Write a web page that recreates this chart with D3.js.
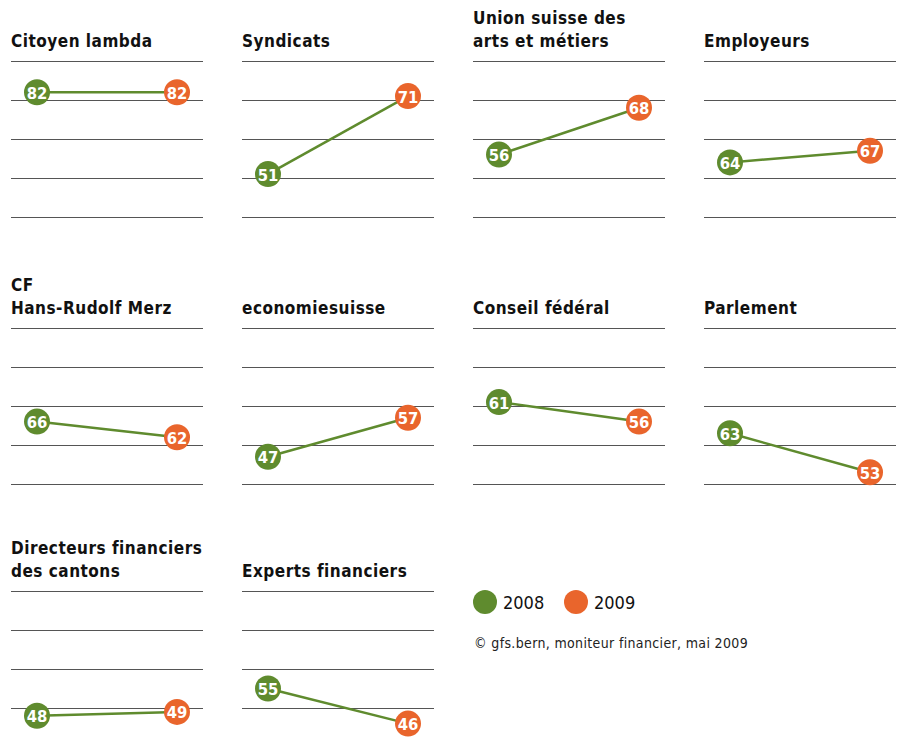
<!DOCTYPE html>
<html lang="fr">
<head>
<meta charset="UTF-8">
<title>Confiance 2008 / 2009</title>
<script src="https://d3js.org/d3.v7.min.js"></script>
<style>
  body { margin: 0; background: #fff; }
  svg { display: block; font-family: "DejaVu Sans Condensed", "DejaVu Sans", sans-serif; }
  .title { font-size: 17px; font-weight: bold; fill: #111; letter-spacing: 0.5px; }
  .grid { stroke: #555; stroke-width: 1.2; }
  .val { font-size: 16.5px; font-weight: bold; fill: #fff; text-anchor: middle; dominant-baseline: central; }
  .leg { font-size: 18px; fill: #111; }
  .src { font-size: 14px; fill: #222; letter-spacing: 0.35px; }
</style>
</head>
<body>
<svg id="chart" width="904" height="747"></svg>
<script>
// données
const panels = ["Citoyen lambda", "Syndicats", "Union suisse des|arts et métiers", "Employeurs",
                "CF|Hans-Rudolf Merz", "economiesuisse", "Conseil fédéral", "Parlement",
                "Directeurs financiers|des cantons", "Experts financiers"];
const years = ["2008", "2009"];
const values2008 = [82, 51, 56, 64, 66, 47, 61, 63, 48, 55];
const values2009 = [82, 71, 68, 67, 62, 57, 56, 53, 49, 46];
// bas de l'échelle de chaque panneau (5 lignes = 40 points)
const axisMin = [50, 40, 40, 50, 50, 40, 40, 50, 40, 40];
const source = "© gfs.bern, moniteur financier, mai 2009";

const green = "#5f8b2e", orange = "#e9652c";
const colors = [green, orange];

const svg = d3.select("#chart");

const rowTop = [61, 328, 591];
const colLeft = [11, 242, 473, 704];
const panelW = 192, panelH = 156;

panels.forEach((name, i) => {
  const x0 = colLeft[i % 4], y0 = rowTop[Math.floor(i / 4)];
  const g = svg.append("g").attr("transform", `translate(${x0},${y0})`);

  const y = d3.scaleLinear().domain([axisMin[i], axisMin[i] + 40]).range([panelH, 0]);
  const x = d3.scalePoint().domain(years).range([26, 166]);

  // lignes horizontales
  g.selectAll("line.grid")
    .data(y.ticks(4))
    .enter().append("line")
    .attr("class", "grid")
    .attr("x1", 0).attr("x2", panelW)
    .attr("y1", d => Math.round(y(d)) + 0.5)
    .attr("y2", d => Math.round(y(d)) + 0.5);

  // titre
  const lines = name.split("|");
  const t = g.append("text").attr("class", "title");
  lines.forEach((l, k) => {
    t.append("tspan").attr("x", 0)
      .attr("y", -14 - (lines.length - 1 - k) * 23)
      .text(l);
  });

  const pts = [values2008[i], values2009[i]].map((v, k) => ({ year: years[k], v, c: colors[k] }));

  g.append("line")
    .attr("x1", x(pts[0].year)).attr("y1", y(pts[0].v))
    .attr("x2", x(pts[1].year)).attr("y2", y(pts[1].v))
    .attr("stroke", green).attr("stroke-width", 2.5);

  const m = g.selectAll("g.pt").data(pts).enter().append("g")
    .attr("transform", d => `translate(${x(d.year)},${y(d.v)})`);
  m.append("circle").attr("r", 13).attr("fill", d => d.c);
  m.append("text").attr("class", "val").attr("y", 1).text(d => d.v);
});

// légende
const leg = svg.append("g").attr("transform", "translate(473,602)");
years.forEach((yr, k) => {
  const lg = leg.append("g").attr("transform", `translate(${k * 91},0)`);
  lg.append("circle").attr("cx", 12).attr("r", 12).attr("fill", colors[k]);
  lg.append("text").attr("class", "leg").attr("x", 30).attr("y", 7).text(yr);
});

svg.append("text").attr("class", "src").attr("x", 474).attr("y", 648).text(source);
</script>
</body>
</html>
